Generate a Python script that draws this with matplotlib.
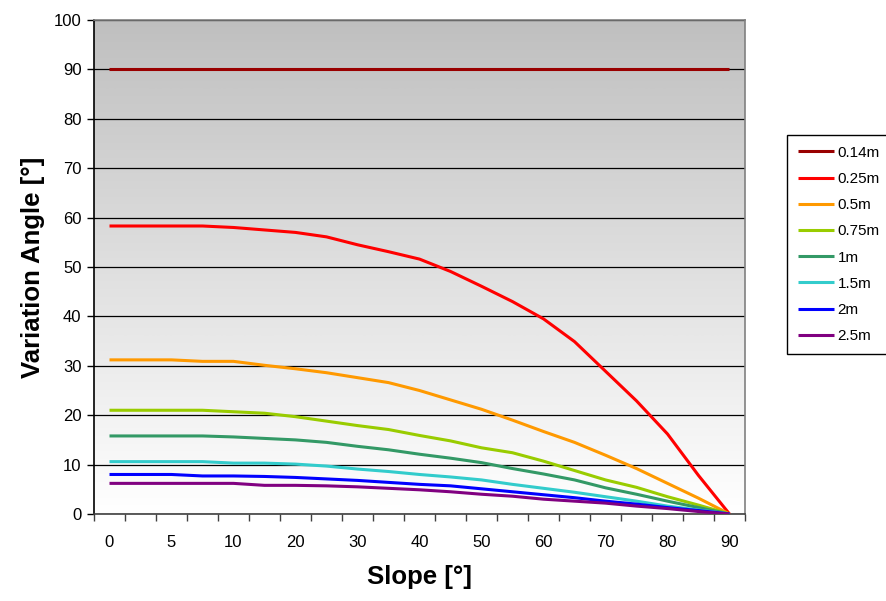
import numpy as np
import matplotlib
matplotlib.use("Agg")
import matplotlib.pyplot as plt

plt.rcParams['font.family'] = ['Liberation Sans', 'DejaVu Sans']

## data
slopes = [0, 2.5, 5, 7.5, 10, 15, 20, 25, 30, 35, 40, 45, 50, 55, 60, 65, 70, 75, 80, 85, 90]
shownLabels = ['0', '5', '10', '20', '30', '40', '50', '60', '70', '80', '90']

v014 = [90, 90, 90, 90, 90, 90, 90, 90, 90, 90, 90, 90, 90, 90, 90, 90, 90, 90, 90, 90, 90]
v025 = [58.3, 58.3, 58.3, 58.3, 58.0, 57.5, 57.0, 56.1, 54.5, 53.1, 51.6, 49.1, 46.1, 43.0, 39.5, 34.9, 28.9, 22.9, 16.2, 7.8, 0]
v05 = [31.2, 31.2, 31.2, 30.9, 30.9, 30.1, 29.4, 28.6, 27.6, 26.6, 25.0, 23.1, 21.2, 19.0, 16.7, 14.5, 11.9, 9.2, 6.2, 3.2, 0]
v075 = [21.0, 21.0, 21.0, 21.0, 20.7, 20.4, 19.7, 18.8, 17.9, 17.1, 15.9, 14.8, 13.4, 12.4, 10.7, 8.8, 6.9, 5.4, 3.5, 1.8, 0]
v1 = [15.8, 15.8, 15.8, 15.8, 15.6, 15.3, 15.0, 14.5, 13.7, 13.0, 12.1, 11.3, 10.4, 9.2, 8.1, 6.9, 5.3, 4.0, 2.6, 1.3, 0]
v15 = [10.6, 10.6, 10.6, 10.6, 10.3, 10.3, 10.1, 9.7, 9.1, 8.6, 8.0, 7.5, 6.9, 6.0, 5.2, 4.4, 3.5, 2.6, 1.6, 0.8, 0]
v2 = [8.0, 8.0, 8.0, 7.7, 7.7, 7.6, 7.4, 7.1, 6.8, 6.4, 6.0, 5.7, 5.1, 4.5, 3.9, 3.3, 2.6, 2.0, 1.3, 0.7, 0]
v25 = [6.2, 6.2, 6.2, 6.2, 6.2, 5.8, 5.8, 5.7, 5.5, 5.2, 4.9, 4.5, 4.0, 3.6, 3.0, 2.6, 2.2, 1.6, 1.1, 0.5, 0]

seriesNames = ['0.14m', '0.25m', '0.5m', '0.75m', '1m', '1.5m', '2m', '2.5m']
seriesValues = [v014, v025, v05, v075, v1, v15, v2, v25]
colors = ['#990000', '#FF0000', '#FF9900', '#99CC00', '#339966', '#33CCCC', '#0000FF', '#800080']

## figure
fig = plt.figure(figsize=(8.87, 6.01), dpi=100)
ax = fig.add_axes([94/887, 1-514/601, (745-94)/887, (514-20)/601])

# grey (top) -> white (bottom) gradient like the excel plot area
grad = np.linspace(0.75, 1.0, 256).reshape(-1, 1)
ax.imshow(np.dstack([grad, grad, grad]), extent=[0, 1, 0, 1], transform=ax.transAxes,
          aspect='auto', zorder=0, interpolation='bicubic')

# category axis: one slot per slope value
xPos = np.arange(len(slopes))
for vals, name, c in zip(seriesValues, seriesNames, colors):
    ax.plot(xPos, vals, color=c, lw=2.2, label=name, zorder=3, solid_capstyle='butt')

ax.set_xlim(-0.5, len(slopes)-0.5)
ax.set_ylim(0, 100)
ax.set_yticks(np.arange(0, 101, 10))
ax.yaxis.grid(True, color='black', lw=0.9)
ax.set_axisbelow(True)

# tick marks between categories, labels on every second category
ax.set_xticks(np.arange(-0.5, len(slopes), 1.0))
ax.set_xticklabels([])
ax.set_xticks(xPos[::2], minor=True)
ax.set_xticklabels(shownLabels, minor=True)
ax.tick_params(axis='x', which='major', direction='out', length=5, width=1, color='#404040')
ax.tick_params(axis='x', which='minor', length=0, pad=15, labelsize=12)
ax.tick_params(axis='y', direction='out', length=5, width=1, pad=4, labelsize=12)

ax.spines['left'].set_color('black')
ax.spines['bottom'].set_color('#404040')
ax.spines['top'].set_color('#808080')
ax.spines['right'].set_color('#808080')
for s in ax.spines.values():
    s.set_linewidth(1.2)

ax.set_xlabel("Slope [°]", fontsize=18.5, fontweight='bold', labelpad=11)
ax.set_ylabel("Variation Angle [°]", fontsize=18.5, fontweight='bold', labelpad=6)

leg = ax.legend(loc='upper left', bbox_to_anchor=(787/887, 1-135/601), bbox_transform=fig.transFigure,
                fontsize=11, frameon=True, fancybox=False, edgecolor='black', framealpha=1,
                handlelength=2.4, handletextpad=0.2, labelspacing=0.8, borderpad=0.7,
                borderaxespad=0)
leg.get_frame().set_linewidth(1.0)

plt.savefig("out.png", dpi=100)
